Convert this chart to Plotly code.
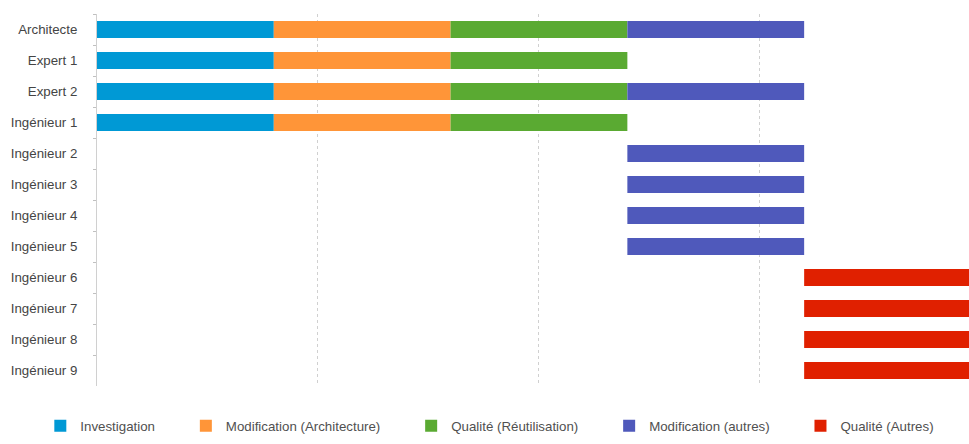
import plotly.graph_objects as go

resources = ["Architecte", "Expert 1", "Expert 2", "Ingénieur 1", "Ingénieur 2",
             "Ingénieur 3", "Ingénieur 4", "Ingénieur 5", "Ingénieur 6",
             "Ingénieur 7", "Ingénieur 8", "Ingénieur 9"]

phases = ["Investigation", "Modification (Architecture)", "Qualité (Réutilisation)",
          "Modification (autres)", "Qualité (Autres)"]
colors = ["#0099d5", "#ff9538", "#5aaa32", "#4f59bb", "#e02000"]

inv_res = ["Architecte", "Expert 1", "Expert 2", "Ingénieur 1"]
inv_start = [0, 0, 0, 0]
inv_dur = [4, 4, 4, 4]

modarch_res = ["Architecte", "Expert 1", "Expert 2", "Ingénieur 1"]
modarch_start = [4, 4, 4, 4]
modarch_dur = [4, 4, 4, 4]

qual_res = ["Architecte", "Expert 1", "Expert 2", "Ingénieur 1"]
qual_start = [8, 8, 8, 8]
qual_dur = [4, 4, 4, 4]

modaut_res = ["Architecte", "Expert 2", "Ingénieur 2", "Ingénieur 3", "Ingénieur 4", "Ingénieur 5"]
modaut_start = [12, 12, 12, 12, 12, 12]
modaut_dur = [4, 4, 4, 4, 4, 4]

qualaut_res = ["Ingénieur 6", "Ingénieur 7", "Ingénieur 8", "Ingénieur 9"]
qualaut_start = [16, 16, 16, 16]
qualaut_dur = [4, 4, 4, 4]

series = [
    (inv_res, inv_start, inv_dur),
    (modarch_res, modarch_start, modarch_dur),
    (qual_res, qual_start, qual_dur),
    (modaut_res, modaut_start, modaut_dur),
    (qualaut_res, qualaut_start, qualaut_dur),
]

PAD = "\u00a0" * 7

fig = go.Figure()
for i, (name, color, (res, start, dur)) in enumerate(zip(phases, colors, series)):
    label = name + (PAD if i < len(phases) - 1 else "")
    fig.add_trace(go.Bar(
        name=label, y=res, x=dur, base=start, orientation="h",
        marker=dict(color=color, line=dict(width=0)),
        width=0.55, hoverinfo="skip",
    ))

fig.update_layout(
    width=969, height=444,
    margin=dict(l=97, r=0, t=14, b=58),
    barmode="overlay",
    plot_bgcolor="white", paper_bgcolor="white",
    font=dict(family="Liberation Sans, Arial, sans-serif", size=13.3, color="#444444"),
    showlegend=True,
    legend=dict(orientation="h", x=-0.065, xanchor="left", xref="paper",
                y=-0.108, yanchor="middle", yref="paper",
                font=dict(size=13.3, color="#505050"),
                traceorder="normal"),
    xaxis=dict(range=[0, 19.73], showticklabels=False, showgrid=True, dtick=5, tick0=0,
               gridcolor="#d0d0d0", griddash="dot", gridwidth=1, zeroline=False,
               showline=False, ticks=""),
    yaxis=dict(categoryorder="array", categoryarray=resources, autorange="reversed",
               showline=True, linecolor="#d0d0d0", linewidth=1, ticks="outside",
               tickson="boundaries", ticklen=3, tickcolor="#c0c0c0",
               showgrid=False, zeroline=False, ticklabelstandoff=16),
)

fig.write_html("out.html", config={"displayModeBar": False},
               post_script="document.body.style.margin='0px';")
